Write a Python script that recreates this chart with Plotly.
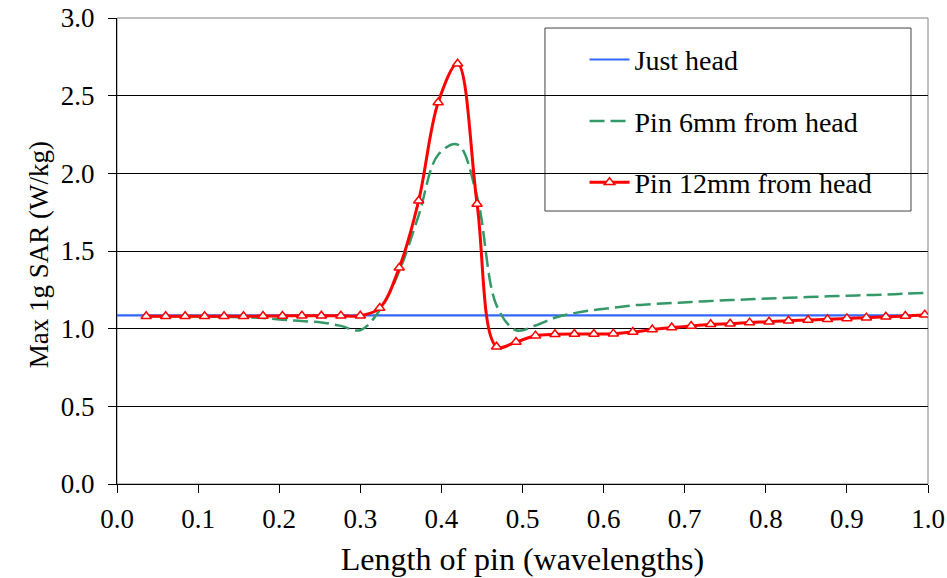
import plotly.graph_objects as go

# ---- data ----
pin_len = [round(0.036 + 0.024 * k, 3) for k in range(41)]  # marker positions (wavelengths)

just_head_x = [0.0, 1.0]
just_head_y = [1.085, 1.085]

pin6_y = [1.080, 1.080, 1.080, 1.078, 1.076, 1.074, 1.068, 1.058, 1.049, 1.040,
          1.018, 0.990, 1.120, 1.370, 1.730, 2.120, 2.185, 1.850, 1.150, 0.990,
          1.020, 1.070, 1.100, 1.120, 1.135, 1.150, 1.158, 1.165, 1.172, 1.178,
          1.184, 1.189, 1.194, 1.199, 1.204, 1.208, 1.212, 1.216, 1.220, 1.225,
          1.230]

pin12_y = [1.080, 1.080, 1.080, 1.080, 1.080, 1.080, 1.081, 1.082, 1.083, 1.083,
           1.083, 1.083, 1.133, 1.392, 1.824, 2.456, 2.705, 1.803, 0.884, 0.914,
           0.955, 0.964, 0.966, 0.966, 0.968, 0.978, 0.994, 1.007, 1.017, 1.028,
           1.032, 1.039, 1.045, 1.051, 1.056, 1.060, 1.066, 1.071, 1.077, 1.081,
           1.090]

x_ticks = [round(0.1 * i, 1) for i in range(11)]
y_ticks = [round(0.5 * i, 1) for i in range(7)]

FONT = "Times New Roman"

fig = go.Figure()
fig.add_trace(go.Scatter(x=just_head_x, y=just_head_y, mode="lines",
                         name="Just head", legendgroup="a",
                         line=dict(color="#3366FF", width=2.2)))
fig.add_trace(go.Scatter(x=pin_len, y=pin6_y, mode="lines",
                         name="Pin 6mm from head", legendgroup="b",
                         line=dict(color="#339966", width=2.5, dash="15px,6px",
                                   shape="spline", smoothing=1.0)))
fig.add_trace(go.Scatter(x=pin_len, y=pin12_y, mode="lines+markers",
                         name="Pin 12mm from head", legendgroup="c",
                         line=dict(color="#FF0000", width=3, shape="spline", smoothing=1.0),
                         marker=dict(symbol="triangle-up", size=9, color="white",
                                     line=dict(color="#FF0000", width=1.5))))

# plot-area border (gray) and legend box
fig.add_shape(type="rect", xref="paper", yref="paper", x0=0, x1=1, y0=0, y1=1,
              line=dict(color="#808080", width=1), layer="below")
fig.add_shape(type="rect", xref="paper", yref="paper",
              x0=0.5277, x1=0.979, y0=0.5858, y1=0.9785,
              line=dict(color="#404040", width=1), fillcolor="white", layer="below")

# y-axis title placed as rotated text
fig.add_annotation(xref="paper", yref="paper", x=-0.117, y=0.491, showarrow=False,
                   text="Max 1g SAR (W/kg)", textangle=-90,
                   font=dict(family=FONT, size=27, color="black"))

fig.update_layout(
    width=947, height=578,
    margin=dict(l=117, r=19, t=18, b=94, autoexpand=False),
    paper_bgcolor="white", plot_bgcolor="white",
    font=dict(family=FONT, size=27, color="black"),
    showlegend=True,
    legend=dict(x=0.5765, y=0.964, xanchor="left", yanchor="top",
                bgcolor="rgba(0,0,0,0)", borderwidth=0,
                font=dict(family=FONT, size=28, color="black"),
                traceorder="grouped", tracegroupgap=22, itemwidth=40),
    xaxis=dict(range=[0, 1], tickvals=x_ticks, ticktext=[f"{v:.1f}" for v in x_ticks],
               showgrid=False, zeroline=False, showline=True, linecolor="black",
               linewidth=1, ticks="outside", ticklen=8, tickcolor="black",
               automargin=False, ticklabelstandoff=3,
               title=dict(text="Length of pin (wavelengths)", standoff=14),
               tickfont=dict(family=FONT, size=27)),
    yaxis=dict(range=[0, 3], tickvals=y_ticks, ticktext=[f"{v:.1f}" for v in y_ticks],
               showgrid=True, gridcolor="black", gridwidth=1, zeroline=False,
               showline=True, linecolor="black", linewidth=1, ticks="outside",
               ticklen=8, tickcolor="black", ticklabelstandoff=8, automargin=False,
               tickfont=dict(family=FONT, size=27)),
)

fig.write_html("out.html", config={"displayModeBar": False},
               post_script="document.body.style.margin='0';")
